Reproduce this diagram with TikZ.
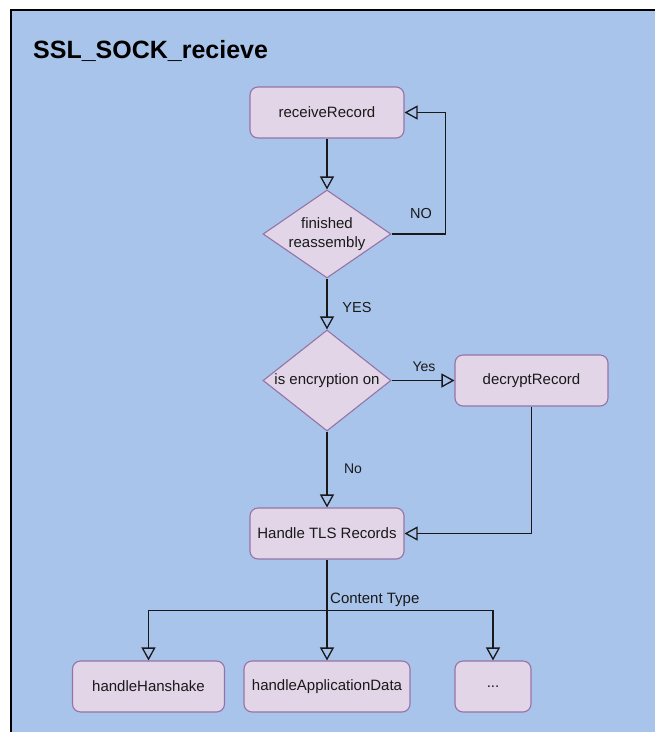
\documentclass[tikz,border=0pt]{standalone}
\usepackage{fontspec}
\setmainfont{Liberation Sans}
\usetikzlibrary{arrows.meta,shapes.geometric}
\definecolor{canvas}{HTML}{A9C4EB}
\definecolor{nodefill}{HTML}{E1D5E7}
\definecolor{nodeline}{HTML}{9673A6}

\begin{document}
\begin{tikzpicture}[x=1pt,y=-1pt,
  proc/.style={rectangle, rounded corners=8pt, draw=nodeline, fill=nodefill,
    line width=1.1pt, minimum height=51pt, inner sep=0pt,
    font=\fontsize{15}{18}\selectfont, text=black!90},
  decision/.style={diamond, draw=nodeline, fill=nodefill, line width=1.1pt,
    inner sep=0pt},
  ntext/.style={font=\fontsize{15}{18}\selectfont, align=center, text=black!90},
  lbl/.style={font=\fontsize{14.5}{17}\selectfont, text=black!90, inner sep=0pt},
  flow/.style={draw=black!90, line width=1.3pt,
    -{Triangle[open, length=13pt, width=14pt]}},
]
\useasboundingbox (0,0) rectangle (655,732);

% frame of the page
\fill[canvas] (11,10) rectangle (655,732);
\draw[line width=1.5pt] (11,732) -- (11,10) -- (655,10);

% title
\node[anchor=base west, inner sep=0pt, font=\fontsize{25}{30}\selectfont\bfseries]
  (title) at (33,58) {SSL\_SOCK\_recieve};

% process boxes
\node[proc, minimum width=154pt] (rr)   at (327,112.5)   {receiveRecord};
\node[proc, minimum width=153pt] (dr)   at (531.5,380.5) {decryptRecord};
\node[proc, minimum width=154pt] (tls)  at (327,533.5)   {Handle TLS Records};
\node[proc, minimum width=152pt] (hs)   at (148.5,686.5) {handleHanshake};
\node[proc, minimum width=166pt] (app)  at (327,686.5)   {handleApplicationData};
\node[proc, minimum width=76pt]  (more) at (493,686.5)   {...};

% decisions
\node[decision, minimum width=128pt, minimum height=88pt] (d1) at (327,234) {};
\node[ntext] (d1t) at (d1) {finished\\[1pt]reassembly};
\node[decision, minimum width=128pt, minimum height=101pt] (d2) at (327,380.5) {};
\node[ntext] (d2t) at (d2) {is encryption on};

% connectors
\draw[flow] (rr.south) -- (d1.north);
\draw[flow] (d1.east) -- ++(54,0) |- (rr.east);
\node[lbl] (lno) at (421,214) {NO};

\draw[flow] (d1.south) -- (d2.north);
\node[lbl] (lyes) at (357,308) {YES};

\draw[flow] (d2.east) -- (dr.west);
\node[lbl, font=\fontsize{14}{17}\selectfont] (lyes2) at (424,367) {Yes};

\draw[flow] (d2.south) -- (tls.north);
\node[lbl, font=\fontsize{14}{17}\selectfont] (lno2) at (353,469) {No};

\draw[flow] (dr.south) |- (tls.east);

% content-type fan-out
\draw[flow] (tls.south) -- (app.north);
\coordinate (split) at ([yshift=-51pt]tls.south);
\draw[flow] (split) -| (hs.north);
\draw[flow] (split) -| (more.north);
\node[lbl, anchor=base west, font=\fontsize{15}{18}\selectfont] (lct) at (330,603) {Content Type};

\end{tikzpicture}
\end{document}
